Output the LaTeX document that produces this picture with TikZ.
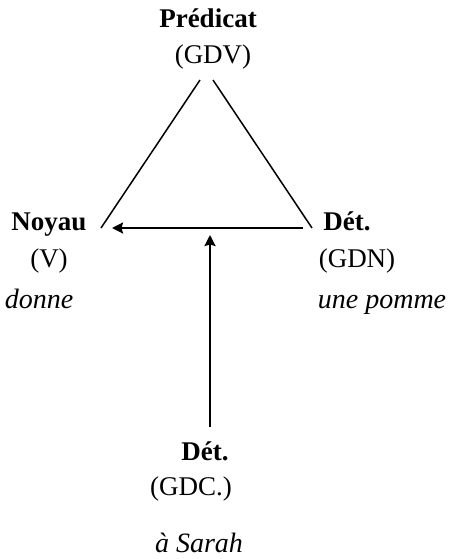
\documentclass[tikz,border=0pt]{standalone}
\usepackage{fontspec}
\setmainfont{Liberation Serif}
\usetikzlibrary{arrows.meta}
\begin{document}
\begin{tikzpicture}[x=1pt, y=-1pt,
    role/.style={inner sep=0pt, anchor=base, font=\fontsize{27}{30}\selectfont\bfseries},
    cat/.style={inner sep=0pt, anchor=base, font=\fontsize{27}{30}\selectfont},
    word/.style={inner sep=0pt, anchor=base, font=\fontsize{28}{30}\selectfont\itshape},
    edge/.style={line width=1.5pt},
    arrow/.style={-{Stealth[length=11pt,width=11pt,inset=1.5pt]}, line width=2.2pt}
]
\useasboundingbox (0,0) rectangle (449,559);
% Predicate at the top
\node[role] at (208,28)  (pred)    {Prédicat};
\node[cat]  at (213,64)  (gdv)     {(GDV)};
% Left corner: nucleus
\node[role] at (49,230)  (noyau)   {Noyau};
\node[cat]  at (49,267)  (v)       {(V)};
\node[word] at (39,308)  (donne)   {donne};
% Right corner: determiner
\node[role] at (347,230) (detgdn)  {Dét.};
\node[cat]  at (357,267) (gdn)     {(GDN)};
\node[word] at (382,308) (pomme)   {une pomme};
% Bottom: second determiner
\node[role] at (205,460) (detgdc)  {Dét.};
\node[cat]  at (191,495) (gdc)     {(GDC.)};
\node[word] at (199,552) (sarah)   {à Sarah};

% end points of the connectors
\coordinate (apexl) at (200,80);
\coordinate (apexr) at (213,80);
\coordinate (cornl) at (101,228);
\coordinate (cornr) at (312,228);
\coordinate (arrs)  at (303,228);
\coordinate (arre)  at (112,228);
\coordinate (ups)   at (210,427);
\coordinate (upe)   at (210,235);

\draw[edge]  (apexl) -- (cornl);
\draw[edge]  (apexr) -- (cornr);
\draw[arrow] (arrs)  -- (arre);
\draw[arrow] (ups)   -- (upe);
\end{tikzpicture}
\end{document}
